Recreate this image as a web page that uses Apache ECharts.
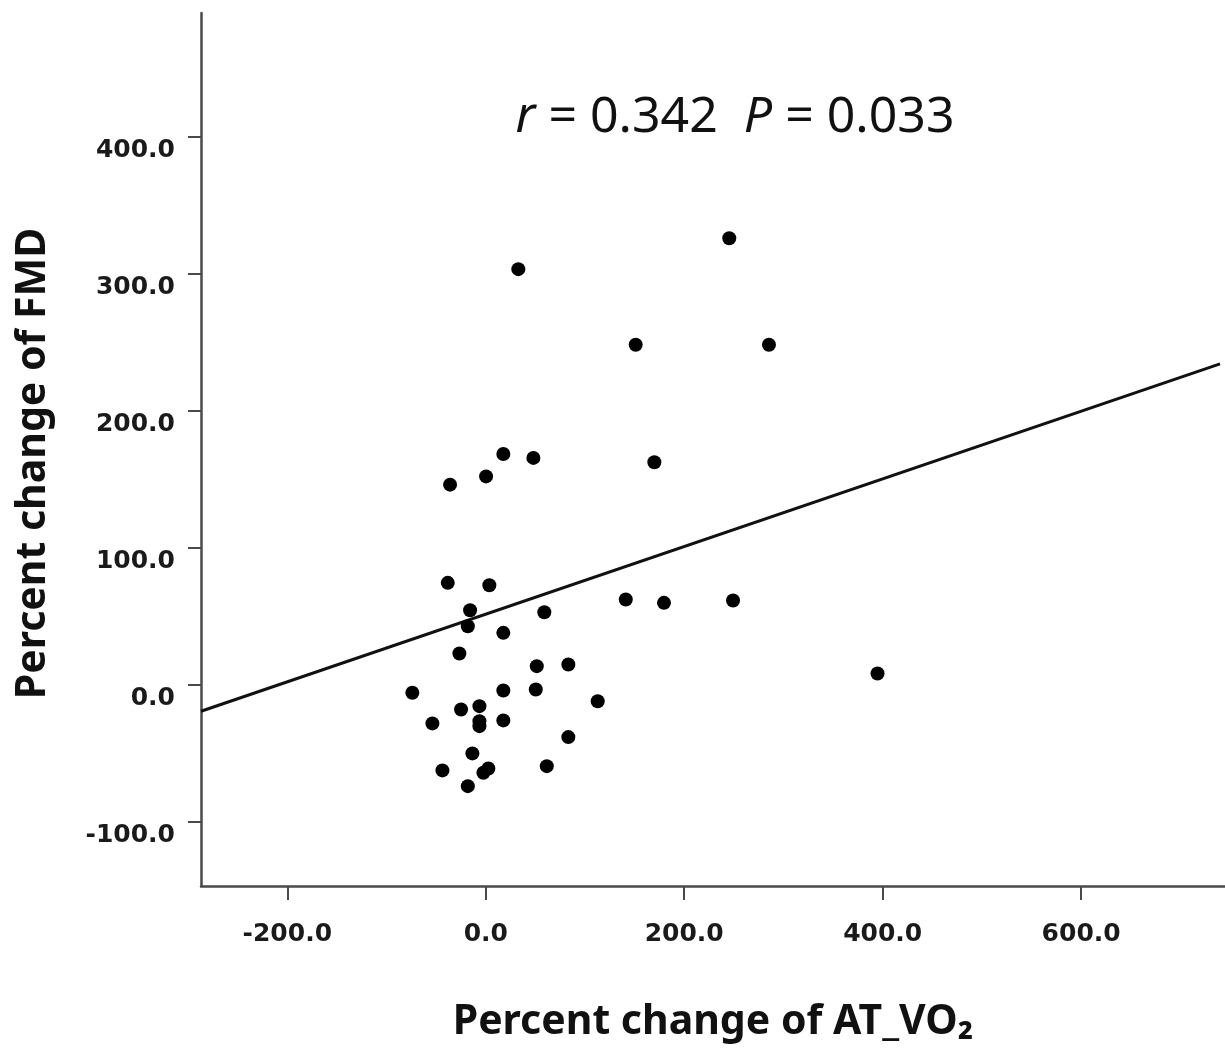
<!DOCTYPE html>
<html>
<head>
<meta charset="utf-8">
<script src="https://cdn.jsdelivr.net/npm/echarts@6/dist/echarts.min.js"></script>
<style>
  html, body { margin: 0; padding: 0; background: #ffffff; }
  #chart { width: 1225px; height: 1048px; }
</style>
</head>
<body>
<div id="chart"></div>
<script>
// Percent change of AT_VO2 (x) vs percent change of FMD (y)
const atVO2 = [-74.0, -53.8, -43.7, -36.0, -38.3, -26.6, -24.9, -18.1, -15.8, -18.1,
               -13.5, -6.4, -6.4, -6.4, -2.4, 2.6, 0.3, 3.6, 17.7, 17.7,
               17.7, 17.7, 32.8, 48.0, 51.4, 50.4, 59.0, 61.5, 83.2, 83.2,
               112.8, 141.1, 151.1, 169.9, 179.6, 245.4, 249.2, 285.4, 394.8];
const fmd   = [-5.5, -27.9, -62.2, 146.4, 74.7, 23.1, -17.7, -73.7, 54.7, 43.0,
               -49.8, -15.3, -26.3, -29.9, -63.9, -60.8, 152.4, 72.9, 168.8, 38.2,
               -3.9, -25.7, 303.7, 165.9, 13.9, -3.1, 53.2, -59.1, 15.1, -37.9,
               -11.7, 62.5, 248.5, 162.7, 60.1, 326.3, 61.8, 248.5, 8.5];
// Fitted regression line end points
const fitX = [-287, 740];
const fitY = [-19.0, 234.6];
// Tick labels
const xTicks = [-200, 0, 200, 400, 600];
const yTicks = [-100, 0, 100, 200, 300, 400];

const points = atVO2.map((v, i) => [v, fmd[i]]);
const fitLine = fitX.map((v, i) => [v, fitY[i]]);

const axisColor = '#4a4a4a';
const labelFont = { fontFamily: 'DejaVu Sans', fontWeight: 'bold', fontSize: 25, color: '#1a1a1a' };
const nameFont = { fontFamily: 'Noto Sans', fontWeight: 'bold', fontSize: 41, color: '#111' };

const chart = echarts.init(document.getElementById('chart'), null, { renderer: 'canvas' });
chart.setOption({
  animation: false,
  backgroundColor: '#ffffff',
  grid: { left: 201, right: 0, top: 13, bottom: 161, containLabel: false },
  xAxis: {
    type: 'value',
    min: -287, max: 745,
    name: 'Percent change of AT_VO\u2082',
    nameLocation: 'middle',
    nameGap: 116,
    nameTextStyle: nameFont,
    splitLine: { show: false },
    axisLine: { show: true, onZero: false, lineStyle: { color: axisColor, width: 2.5 } },
    axisTick: { show: true, customValues: xTicks, length: 14, lineStyle: { color: axisColor, width: 2 } },
    axisLabel: Object.assign({ customValues: xTicks, margin: 36, formatter: v => v.toFixed(1) }, labelFont)
  },
  yAxis: {
    type: 'value',
    min: -146.6, max: 490.7,
    name: 'Percent change of FMD',
    nameLocation: 'middle',
    nameGap: 147,
    nameTextStyle: Object.assign({ padding: [0, 28, 0, 0] }, nameFont),
    splitLine: { show: false },
    axisLine: { show: true, onZero: false, lineStyle: { color: axisColor, width: 2.5 } },
    axisTick: { show: true, customValues: yTicks, length: 13, lineStyle: { color: axisColor, width: 2 } },
    axisLabel: Object.assign({ customValues: yTicks, margin: 26, verticalAlign: 'top', padding: [1, 0, 0, 0], formatter: v => v.toFixed(1) }, labelFont)
  },
  series: [
    {
      type: 'line',
      data: fitLine,
      showSymbol: false,
      symbol: 'none',
      lineStyle: { color: '#111', width: 3 },
      z: 2,
      silent: true
    },
    {
      type: 'scatter',
      data: points,
      symbol: 'circle',
      symbolSize: 14,
      itemStyle: { color: '#000', opacity: 1 },
      z: 3
    }
  ],
  graphic: [
    {
      type: 'text',
      x: 735,
      y: 118,
      style: {
        text: '{i|r} = 0.342  {i|P} = 0.033',
        fontFamily: 'Noto Sans',
        fontSize: 50,
        fill: '#111',
        textAlign: 'center',
        textVerticalAlign: 'middle',
        rich: {
          i: { fontFamily: 'Noto Sans', fontSize: 50, fontStyle: 'italic', fill: '#111' }
        }
      }
    }
  ]
});
</script>
</body>
</html>
